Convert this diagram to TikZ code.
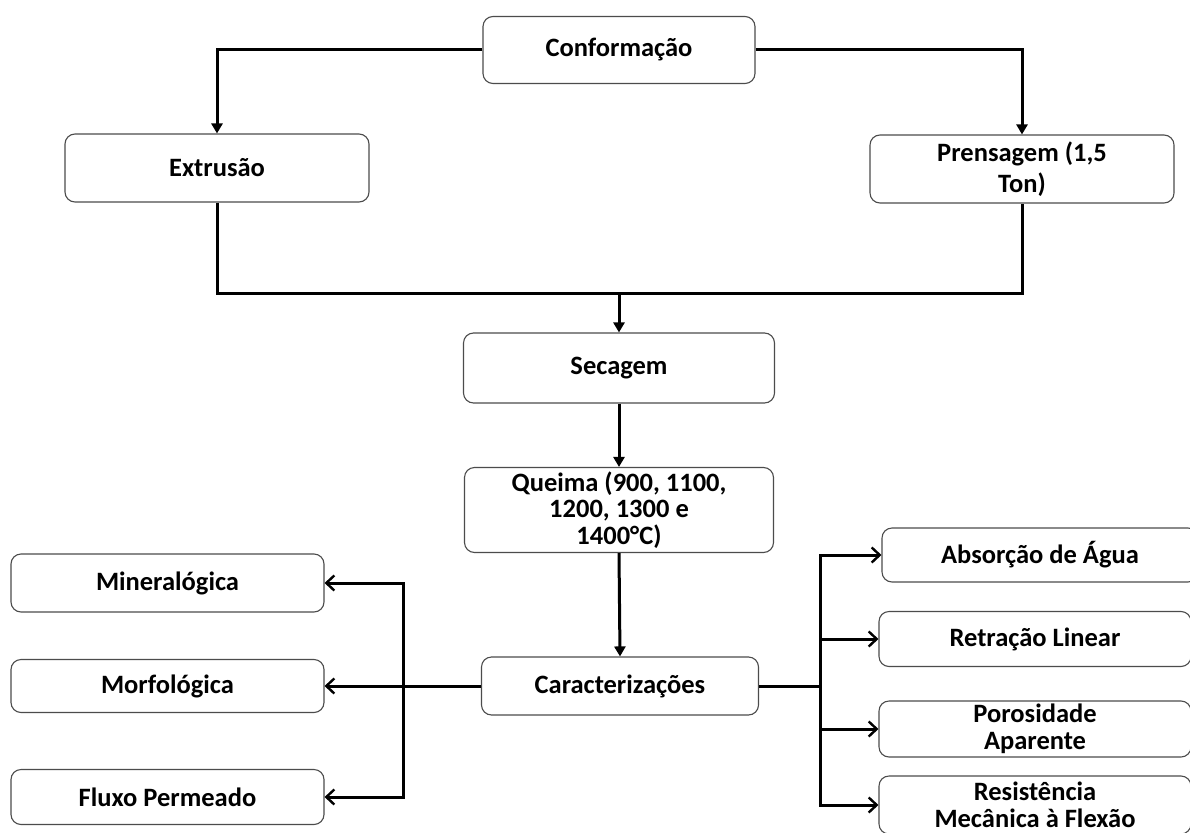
\documentclass[tikz,border=0pt]{standalone}
\usepackage{fontspec}
\setmainfont{Carlito}
\usetikzlibrary{arrows.meta}
\begin{document}
\begin{tikzpicture}[x=1pt,y=-1pt,
  box/.style={draw=black!70, line width=1.1pt, rounded corners=10pt, fill=white,
    align=center, inner sep=0pt, font=\fontsize{26.5}{26.5}\selectfont\bfseries},
  conn/.style={line width=3pt, line join=miter},
  farr/.style={conn, -{Triangle[length=10pt,width=11pt]}},
  oarr/.style={conn, -{Straight Barb[length=8pt,width=15pt,line width=2.4pt]}},
  oarrb/.style={conn, {Straight Barb[length=8pt,width=15pt,line width=2.4pt]}-{Straight Barb[length=8pt,width=15pt,line width=2.4pt]}}]
\clip (0,0) rectangle (1190,832);
\fill[white] (0,0) rectangle (1190,832);
% nodes
\node[box, minimum width=272pt, minimum height=67pt] (conf) at (619,50) {Conformação};
\node[box, minimum width=304pt, minimum height=68pt] (extr) at (217,168) {Extrusão};
\node[box, minimum width=304pt, minimum height=68pt] (pren) at (1022,169) {Prensagem (1,5\\[4pt]Ton)};
\node[box, minimum width=311pt, minimum height=70pt] (sec) at (619,368) {Secagem};
\node[box, minimum width=309pt, minimum height=85pt] (quei) at (619,510) {Queima (900, 1100,\\1200, 1300 e\\1400°C)};
\node[box, minimum width=277pt, minimum height=58pt] (car) at (620,686) {Caracterizações};
\node[box, minimum width=313pt, minimum height=58pt] (min) at (167.5,583) {Mineralógica};
\node[box, minimum width=313pt, minimum height=53pt] (mor) at (167.5,686) {Morfológica};
\node[box, minimum width=313pt, minimum height=55pt] (flu) at (167.5,797) {Fluxo Permeado};
\node[box, minimum width=316pt, minimum height=54pt] (abs) at (1040,555) {Absorção de Água};
\node[box, minimum width=312pt, minimum height=55pt] (ret) at (1035,639) {Retração Linear};
\node[box, minimum width=312pt, minimum height=56pt] (por) at (1035,729) {Porosidade\\Aparente};
\node[box, minimum width=312pt, minimum height=58pt] (res) at (1035,805) {Resistência\\Mecânica à Flexão};
% coordinates
\coordinate (merge) at (619,293);
\coordinate (ltrunk) at (403,686);
\coordinate (rtrunk) at (820,686);
% connectors
\draw[farr] (conf.west) -| (extr.north);
\draw[farr] (conf.east) -| (pren.north);
\draw[conn] (extr.south) |- (merge) -| (pren.south);
\draw[farr] (merge) -- (sec.north);
\draw[farr] (sec.south) -- (quei.north);
\draw[farr] (quei.south) -- (car.north);
\draw[oarr] (car.west) -- (mor.east);
\draw[oarrb] (min.east) -| (ltrunk) |- (flu.east);
\draw[conn] (car.east) -- (rtrunk);
\draw[oarr] (rtrunk) |- (abs.west);
\draw[oarr] (rtrunk) |- (ret.west);
\draw[oarr] (rtrunk) |- (por.west);
\draw[oarr] (rtrunk) |- (res.west);
\end{tikzpicture}
\end{document}
